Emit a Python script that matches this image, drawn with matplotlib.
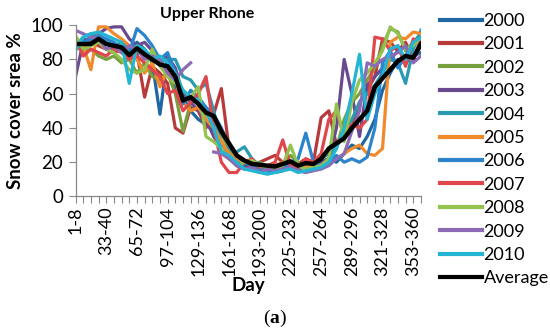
import numpy as np
import matplotlib
matplotlib.use("Agg")
import matplotlib.pyplot as plt

nan = np.nan
periods = ["1-8", "9-16", "17-24", "25-32", "33-40", "41-48", "49-56", "57-64", "65-72",
           "73-80", "81-88", "89-96", "97-104", "105-112", "113-120", "121-128", "129-136",
           "137-144", "145-152", "153-160", "161-168", "169-176", "177-184", "185-192",
           "193-200", "201-208", "209-216", "217-224", "225-232", "233-240", "241-248",
           "249-256", "257-264", "265-272", "273-280", "281-288", "289-296", "297-304",
           "305-312", "313-320", "321-328", "329-336", "337-344", "345-352", "353-360",
           "361-365"]

y2000 = [87, 92, 90, 93, 90, 85, 88, 84, 90, 86, 78, 48, 82, 62, 58, 50, 45, 42, 38, 27,
         22, 20, 18, 17, 16, 15, 14, 17, 18, 15, 19, 17, 20, 22, 20, 25, 30, 28, 35, 45,
         62, 72, 80, 78, 82, 84]
y2001 = [88, 85, 90, 88, 86, 84, 86, 80, 84, 58, 76, 72, 66, 40, 37, 52, 50, 40, 48, 63,
         28, 18, 16, 18, 20, 22, 24, 20, 18, 19, 22, 20, 46, 50, 30, 36, 40, 55, 62, 70,
         92, 90, 85, 90, 80, 92]
y2002 = [90, 84, 86, 82, 80, 82, 78, 80, 72, 78, 70, 68, 72, 60, 38, 55, 56, 48, 44, 36,
         28, 22, 20, 19, 20, 17, 16, 18, 24, 20, 16, 18, 20, 22, 28, 45, 55, 60, 68, 75,
         88, 98, 96, 85, 90, 95]
y2003 = [70, 90, 93, 95, 98, 99, 99, 92, 88, 90, 85, 80, 82, 75, 60, 55, 50, 45, 35, 28,
         24, 22, 20, 18, 19, 16, 15, 16, 17, 18, 16, 18, 20, 22, 40, 80, 60, 35, 65, 70,
         75, 80, 85, 88, 80, 88]
y2004 = [88, 93, 95, 92, 90, 88, 90, 86, 88, 85, 82, 78, 80, 80, 70, 68, 62, 66, 50, 30,
         28, 26, 29, 22, 18, 16, 15, 17, 19, 16, 18, 20, 22, 25, 30, 38, 45, 55, 60, 65,
         72, 80, 78, 66, 86, 97]
y2005 = [93, 88, 74, 99, 99, 95, 92, 88, 80, 72, 78, 64, 74, 68, 55, 50, 52, 45, 40, 32,
         25, 22, 20, 19, 18, 17, 18, 20, 19, 18, 17, 19, 18, 20, 22, 25, 28, 30, 25, 24,
         28, 90, 93, 92, 96, 95]
y2006 = [86, 90, 92, 94, 92, 90, 86, 84, 98, 94, 88, 80, 84, 72, 54, 62, 58, 52, 48, 40,
         30, 24, 20, 18, 16, 15, 14, 15, 20, 22, 37, 20, 18, 20, 24, 20, 22, 20, 23, 40,
         78, 85, 75, 82, 90, 92]
y2007 = [92, 82, 86, 84, 82, 86, 84, 80, 82, 78, 74, 70, 60, 62, 50, 55, 60, 70, 40, 20,
         14, 14, 20, 22, 17, 18, 20, 33, 18, 17, 22, 20, 25, 45, 50, 35, 42, 40, 45, 93,
         92, 85, 88, 76, 92, 90]
y2008 = [94, 86, 88, 90, 86, 84, 80, 74, 72, 74, 86, 76, 70, 66, 62, 58, 64, 35, 32, 28,
         22, 18, 20, 21, 18, 17, 16, 18, 30, 18, 16, 17, 18, 22, 54, 32, 55, 68, 72, 78,
         85, 99, 95, 86, 88, 93]
y2009 = [97, 95, 93, 92, 86, 88, 84, 88, 86, 80, 82, 80, 72, 68, 74, 78, nan, nan, 26, 25,
         22, 18, 16, 17, 14, 16, 15, 16, 17, 15, 14, 15, 16, 18, 22, 25, 38, 50, 78, 76,
         80, 82, 84, 88, 78, 82]
y2010 = [85, 93, 95, 96, 94, 92, 90, 66, 88, 86, 80, 82, 78, 72, 62, 58, 56, 50, 40, 26,
         24, 20, 16, 15, 14, 13, 14, 15, 16, 14, 15, 16, 17, 20, 28, 40, 60, 83, 45, 60,
         70, 86, 88, 80, 90, 93]
average = [89, 89, 89, 92, 89, 88, 87, 82.5, 86.5, 83, 80, 77, 76, 70, 56, 58, 54, 49, 47,
           38, 31, 24, 21, 19, 18.5, 18, 17.5, 19, 20.5, 18, 19.5, 19, 22, 28, 31, 34, 40,
           45, 50, 64, 69, 74, 79, 82, 81, 89]

series_names = ["2000", "2001", "2002", "2003", "2004", "2005", "2006", "2007", "2008",
                "2009", "2010"]
series_values = [y2000, y2001, y2002, y2003, y2004, y2005, y2006, y2007, y2008, y2009, y2010]
colors = ["#1f67a3", "#b8393a", "#77a03e", "#6a4a8e", "#2a9ab0", "#f08a2a", "#2b84cc",
          "#e0474c", "#94c24f", "#8d6ab5", "#22b6d4"]

FONT = "Lato"
plt.rcParams['font.family'] = [FONT, 'DejaVu Sans']
plt.rcParams['mathtext.fontset'] = 'custom'
plt.rcParams['mathtext.rm'] = 'Liberation Serif'
plt.rcParams['mathtext.bf'] = 'Liberation Serif:bold'

fig = plt.figure(figsize=(5.5, 3.34), dpi=100)
ax = fig.add_axes([0.1373, 0.4117, 0.628, 0.513])

x = np.arange(len(periods))
for name, vals, c in zip(series_names, series_values, colors):
    ax.plot(x, vals, color=c, lw=2.3, label=name, solid_joinstyle='round')
ax.plot(x, average, color="black", lw=3.2, label="Average", solid_joinstyle='round')

ax.set_xlim(0, len(periods) - 1)
ax.set_ylim(0, 100)
ax.set_yticks([0, 20, 40, 60, 80, 100])
ax.set_xticks(x)
ax.set_xticklabels([p if i % 4 == 0 else "" for i, p in enumerate(periods)],
                   rotation=90, fontsize=13)
ax.tick_params(axis='x', length=4.8, width=0.8, color="#888888", pad=2.5)
ax.tick_params(axis='y', length=4.8, width=0.8, color="#888888", labelsize=13.5, pad=4)
for s in ["top", "right"]:
    ax.spines[s].set_visible(False)
for s in ["left", "bottom"]:
    ax.spines[s].set_color("#888888")
    ax.spines[s].set_linewidth(0.9)

ax.set_ylabel("Snow cover srea %", fontsize=13.5, fontweight="bold", labelpad=5)
ax.set_xlabel("Day", fontsize=13.5, fontweight="bold")
ax.xaxis.set_label_coords(0.5, (196.5 - 286) / 171.5, transform=ax.transAxes)
ax.xaxis.label.set_va("center")

fig.text(207 / 550, 1 - 14 / 334, "Upper Rhone", fontsize=11.5, fontweight="bold",
         ha="center", va="center")

leg = ax.legend(loc="upper left", bbox_to_anchor=(440 / 550, 1 - 13 / 334),
                bbox_transform=fig.transFigure, frameon=False, fontsize=13,
                handlelength=2.3, handletextpad=0.12, labelspacing=0.41,
                borderaxespad=0, borderpad=0)
for h in leg.get_lines():
    h.set_linewidth(3)

fig.text(0.5, 1 - 318 / 334, r"($\mathbf{a}$)", fontsize=14, family="Liberation Serif",
         ha="center", va="center")

fig.savefig("out.png", dpi=100)
